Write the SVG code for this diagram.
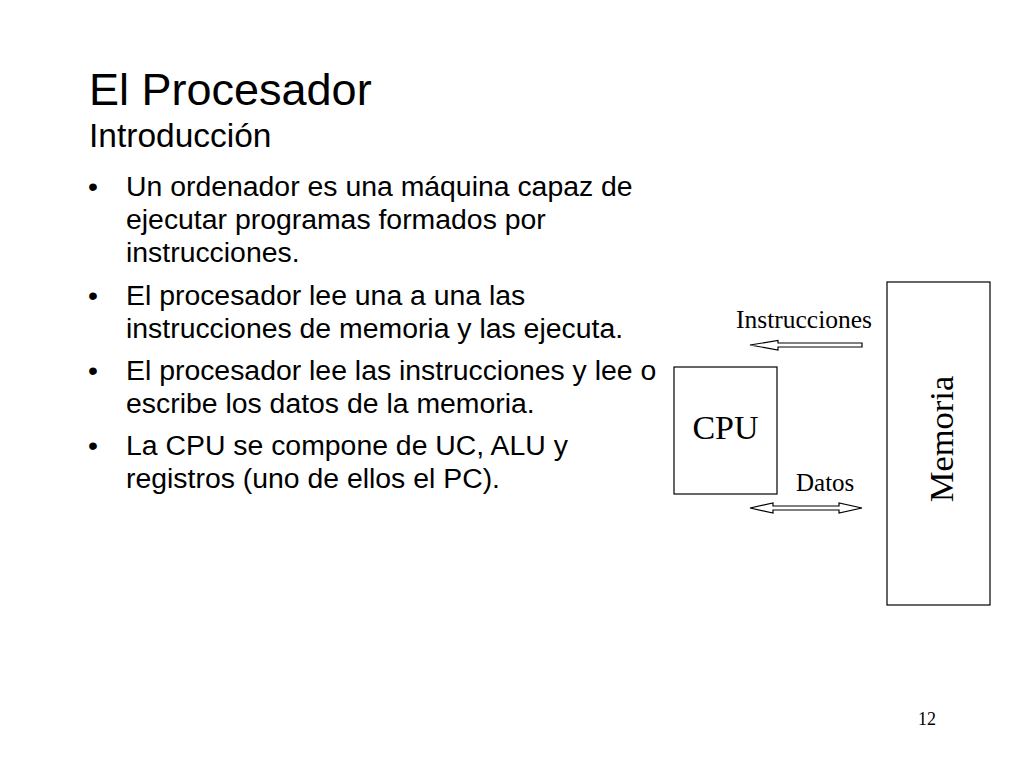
<svg xmlns="http://www.w3.org/2000/svg" width="1024" height="768" viewBox="0 0 1024 768">
<style>
.sans{font-family:"Liberation Sans",Arial,sans-serif;fill:#000}
.serif{font-family:"Liberation Serif","Times New Roman",serif;fill:#000}
.body{font-size:28.4px}
.box{fill:#fff;stroke:#000;stroke-width:1.2}
.arrow{fill:#fff;stroke:#000;stroke-width:1.2;stroke-linejoin:miter}
</style>
<rect width="1024" height="768" fill="#fff"/>
<g id="title">
<text class="sans" x="89" y="105" font-size="45">El Procesador</text>
<text class="sans" x="89" y="147" font-size="33.5">Introducción</text>
</g>
<g id="bullets" class="sans body">
<text x="88" y="196">•</text>
<text x="126" y="196">Un ordenador es una máquina capaz de</text>
<text x="126" y="229">ejecutar programas formados por</text>
<text x="126" y="262">instrucciones.</text>
<text x="88" y="305">•</text>
<text x="126" y="305">El procesador lee una a una las</text>
<text x="126" y="338">instrucciones de memoria y las ejecuta.</text>
<text x="88" y="380">•</text>
<text x="126" y="380">El procesador lee las instrucciones y lee o</text>
<text x="126" y="413">escribe los datos de la memoria.</text>
<text x="88" y="455">•</text>
<text x="126" y="455">La CPU se compone de UC, ALU y</text>
<text x="126" y="488">registros (uno de ellos el PC).</text>
</g>
<g id="cpu">
<rect class="box" x="674" y="367" width="103" height="127"/>
<text class="serif" x="725.5" y="439" font-size="34" text-anchor="middle">CPU</text>
</g>
<g id="memoria">
<rect class="box" x="887" y="282" width="103" height="323"/>
<text class="serif" font-size="34.5" text-anchor="middle" transform="translate(953,439) rotate(-90)">Memoria</text>
</g>
<g id="connectors">
<polygon class="arrow" points="750,345 778,340.5 778,343 862,343 862,347 778,347 778,350"/>
<polygon class="arrow" points="750,508 773,503 773,506 839,506 839,503 862,508 839,513 839,510 773,510 773,513"/>
<text class="serif" x="736" y="328" font-size="25.5">Instrucciones</text>
<text class="serif" x="796" y="491" font-size="25">Datos</text>
</g>
<text class="serif" x="918" y="725" font-size="18">12</text>
</svg>
